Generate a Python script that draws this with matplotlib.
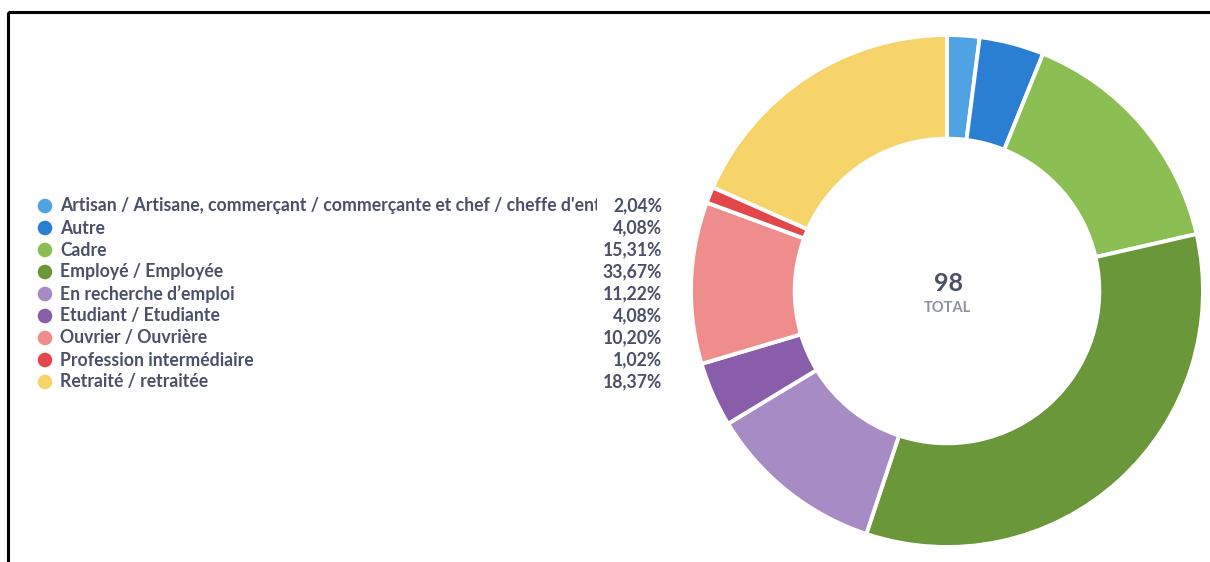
import matplotlib
matplotlib.use("Agg")
import matplotlib.pyplot as plt
from matplotlib.patches import Rectangle
from matplotlib.transforms import Bbox, TransformedBbox

# data
labels = ["Artisan / Artisane, commerçant / commerçante et chef / cheffe d'entreprise",
          "Autre", "Cadre", "Employé / Employée", "En recherche d’emploi",
          "Etudiant / Etudiante", "Ouvrier / Ouvrière", "Profession intermédiaire",
          "Retraité / retraitée"]
counts = [2, 4, 15, 33, 11, 4, 10, 1, 18]
colors = ["#4fa3e3", "#2b7fd3", "#8bbf53", "#6a9739", "#a68bc5",
          "#8a5dab", "#ee8d8b", "#e4474b", "#f7d469"]
total = sum(counts)
pcts = ["{:.2f}%".format(100 * c / total).replace(".", ",") for c in counts]

plt.rcParams['font.family'] = ['Lato', 'DejaVu Sans']
W, H = 1210, 562
fig = plt.figure(figsize=(W / 100, H / 100), dpi=100)

# donut
cx, cy, r = 947, 291, 256
ax = fig.add_axes([(cx - r) / W, (H - cy - r) / H, 2 * r / W, 2 * r / H])
wedges, _ = ax.pie(counts, colors=colors, startangle=90, counterclock=False,
                   radius=1, wedgeprops=dict(width=0.405, edgecolor="white", linewidth=2.8))
for w in wedges:
    w.set_clip_on(False)
ax.set_xlim(-1, 1)
ax.set_ylim(-1, 1)
ax.axis("off")
ax.text(0.005, 0.03, str(total), ha="center", va="center", fontsize=18,
        fontweight="bold", color="#4a5068")
ax.text(0.0, -0.065, "TOTAL", ha="center", va="center", fontsize=10.5,
        fontweight="bold", color="#8d929c")

# overlay in pixel coords for legend and frame
ov = fig.add_axes([0, 0, 1, 1])
ov.set_xlim(0, W)
ov.set_ylim(H, 0)
ov.axis("off")
ov.add_patch(Rectangle((8, 12), 1300, 700, fill=False, edgecolor="black",
                       linewidth=2.2, clip_on=False))

# long first label is cut off before the percentages
clip = TransformedBbox(Bbox([[0, 0], [5.97, H / 100]]), fig.dpi_scale_trans)

y0, dy = 206, 22
for i, (lab, p, c) in enumerate(zip(labels, pcts, colors)):
    y = y0 + i * dy
    ov.scatter([45], [y], s=110, color=c, edgecolors="none")
    t = ov.text(60, y, lab, ha="left", va="center", fontsize=12.7,
                fontweight="bold", color="#4a5068")
    t.set_clip_box(clip)
    t.set_clip_on(True)
    ov.text(662, y, p, ha="right", va="center", fontsize=12.7,
            fontweight="bold", color="#4a5068")

fig.savefig("out.png", dpi=100)
